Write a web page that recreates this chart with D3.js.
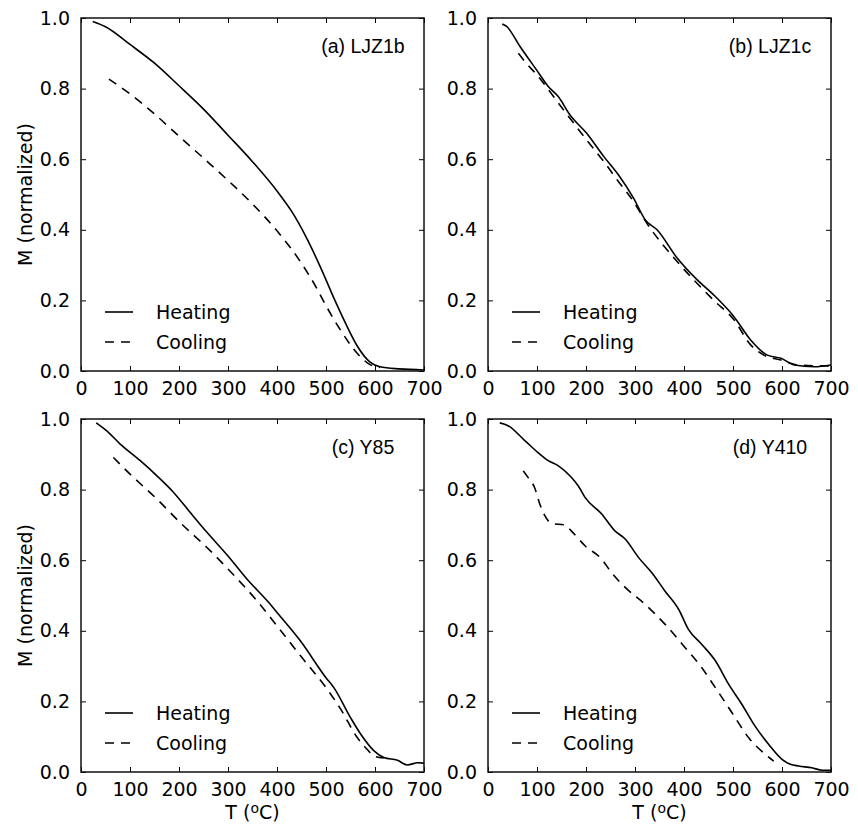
<!DOCTYPE html>
<html>
<head>
<meta charset="utf-8">
<script src="https://cdn.jsdelivr.net/npm/d3@7"></script>
<style>
  body { margin: 0; background: #fff; }
  .tick text { font-family: "DejaVu Sans", sans-serif; font-size: 19px; fill: #000; }
  .tick line { stroke: #000; stroke-width: 1; }
  .domain { display: none; }
</style>
</head>
<body>
<svg id="chart" width="858" height="824"></svg>
<script>
// panel names
var PANELS = ['(a) LJZ1b', '(b) LJZ1c', '(c) Y85', '(d) Y410'];
var SERIES = ['Heating', 'Cooling'];
var XTICKS = [0, 100, 200, 300, 400, 500, 600, 700];
var YTICKS = [0.0, 0.2, 0.4, 0.6, 0.8, 1.0];

// (a) LJZ1b
var aHeatT = [24, 50, 100, 150, 200, 250, 300, 350, 400, 430, 460, 490, 515, 540, 565, 590, 610, 650, 700];
var aHeatM = [0.99, 0.975, 0.925, 0.872, 0.808, 0.742, 0.668, 0.593, 0.51, 0.452, 0.378, 0.29, 0.21, 0.135, 0.068, 0.025, 0.012, 0.006, 0.003];
var aCoolT = [57, 100, 150, 200, 250, 300, 350, 400, 450, 480, 500, 530, 565, 590, 610];
var aCoolM = [0.827, 0.785, 0.728, 0.665, 0.603, 0.54, 0.473, 0.397, 0.305, 0.237, 0.185, 0.115, 0.048, 0.018, 0.01];

// (b) LJZ1c
var bHeatT = [29, 38, 65, 99, 123, 143, 167, 201, 236, 266, 297, 321, 345, 386, 427, 461, 502, 536, 570, 598, 625, 666, 700];
var bHeatM = [0.983, 0.976, 0.92, 0.853, 0.806, 0.778, 0.726, 0.674, 0.608, 0.556, 0.49, 0.428, 0.4, 0.32, 0.258, 0.215, 0.154, 0.088, 0.045, 0.036, 0.017, 0.012, 0.017];
var bCoolT = [62, 75, 99, 154, 201, 236, 266, 297, 324, 386, 461, 502, 536, 563, 598, 632, 700];
var bCoolM = [0.9, 0.877, 0.84, 0.74, 0.655, 0.594, 0.537, 0.48, 0.419, 0.31, 0.2, 0.145, 0.074, 0.045, 0.031, 0.017, 0.014];

// (c) Y85
var cHeatT = [31, 52, 80, 121, 155, 189, 223, 257, 300, 339, 380, 400, 448, 500, 516, 550, 571, 598, 618, 646, 666, 687, 700];
var cHeatM = [0.989, 0.967, 0.929, 0.882, 0.839, 0.792, 0.735, 0.679, 0.612, 0.546, 0.485, 0.452, 0.371, 0.267, 0.239, 0.154, 0.107, 0.06, 0.041, 0.033, 0.02, 0.026, 0.025];
var cCoolT = [66, 100, 155, 202, 257, 300, 359, 400, 448, 500, 530, 564, 584, 598, 618];
var cCoolM = [0.891, 0.844, 0.773, 0.707, 0.636, 0.575, 0.485, 0.414, 0.329, 0.239, 0.178, 0.097, 0.064, 0.045, 0.04];

// (d) Y410
var dHeatT = [24, 41, 75, 102, 123, 143, 170, 184, 198, 232, 259, 280, 307, 334, 361, 389, 409, 436, 464, 491, 518, 545, 573, 600, 617, 634, 661, 682, 700];
var dHeatM = [0.989, 0.981, 0.939, 0.905, 0.882, 0.868, 0.835, 0.811, 0.778, 0.731, 0.683, 0.66, 0.608, 0.565, 0.513, 0.461, 0.404, 0.362, 0.315, 0.249, 0.192, 0.13, 0.078, 0.036, 0.022, 0.017, 0.012, 0.005, 0.005];
var dCoolT = [72, 82, 95, 106, 116, 130, 157, 170, 198, 232, 252, 280, 320, 361, 402, 436, 464, 498, 532, 566, 583];
var dCoolM = [0.853, 0.834, 0.806, 0.758, 0.726, 0.704, 0.7, 0.683, 0.641, 0.603, 0.565, 0.523, 0.476, 0.419, 0.353, 0.296, 0.239, 0.168, 0.097, 0.05, 0.031];

var HEAT_T = [aHeatT, bHeatT, cHeatT, dHeatT];
var HEAT_M = [aHeatM, bHeatM, cHeatM, dHeatM];
var COOL_T = [aCoolT, bCoolT, cCoolT, dCoolT];
var COOL_M = [aCoolM, bCoolM, cCoolM, dCoolM];

var PANELLEFT = [81, 488];
var PANELTOP = [18, 419];
var PANELW = 343;
var PANELH = 353;
var TICKLEN = 5;
var DASH = '9,7';

var svg = d3.select('#chart');

function toPoints(aT, aM)
{
  return aT.map(function(t, i) { return [t, aM[i]]; });
}

function drawPanel(iPanel)
{
  var iCol = iPanel % 2;
  var iRow = Math.floor(iPanel / 2);
  var fLeft = PANELLEFT[iCol];
  var fTop = PANELTOP[iRow];

  var x = d3.scaleLinear().domain([0, 700]).range([0, PANELW]);
  var y = d3.scaleLinear().domain([0, 1]).range([PANELH, 0]);

  var g = svg.append('g').attr('transform', 'translate(' + fLeft + ',' + fTop + ')');

  g.append('clipPath').attr('id', 'clip' + iPanel)
    .append('rect').attr('width', PANELW).attr('height', PANELH);

  // axes, ticks pointing inward on all four sides
  g.append('g').attr('transform', 'translate(0,' + PANELH + ')')
    .call(d3.axisBottom(x).tickValues(XTICKS).tickFormat(d3.format('d')).tickSizeInner(-TICKLEN).tickSizeOuter(0).tickPadding(11));
  g.append('g')
    .call(d3.axisTop(x).tickValues(XTICKS).tickFormat('').tickSizeInner(-TICKLEN).tickSizeOuter(0));
  g.append('g')
    .call(d3.axisLeft(y).tickValues(YTICKS).tickFormat(d3.format('.1f')).tickSizeInner(-TICKLEN).tickSizeOuter(0).tickPadding(11));
  g.append('g').attr('transform', 'translate(' + PANELW + ',0)')
    .call(d3.axisRight(y).tickValues(YTICKS).tickFormat('').tickSizeInner(-TICKLEN).tickSizeOuter(0));

  var line = d3.line().x(function(d) { return x(d[0]); }).y(function(d) { return y(d[1]); }).curve(d3.curveMonotoneX);

  var gLines = g.append('g').attr('clip-path', 'url(#clip' + iPanel + ')');
  gLines.append('path')
    .attr('d', line(toPoints(HEAT_T[iPanel], HEAT_M[iPanel])))
    .attr('fill', 'none').attr('stroke', '#000').attr('stroke-width', 1.6);
  gLines.append('path')
    .attr('d', line(toPoints(COOL_T[iPanel], COOL_M[iPanel])))
    .attr('fill', 'none').attr('stroke', '#000').attr('stroke-width', 1.6)
    .attr('stroke-dasharray', DASH);

  // frame
  g.append('rect').attr('width', PANELW).attr('height', PANELH)
    .attr('fill', 'none').attr('stroke', '#111').attr('stroke-width', 1.5);

  // panel label
  g.append('text')
    .attr('x', 282).attr('y', 35)
    .attr('text-anchor', 'middle')
    .style('font-family', '"Liberation Sans", Arial, sans-serif')
    .style('font-size', '19.5px')
    .text(PANELS[iPanel]);

  // legend
  var gLeg = g.append('g');
  SERIES.forEach(function(s, i)
  {
    var fY = PANELH - 59 + i * 30;
    gLeg.append('line')
      .attr('x1', 24).attr('x2', 52).attr('y1', fY).attr('y2', fY)
      .attr('stroke', '#000').attr('stroke-width', 1.6)
      .attr('stroke-dasharray', i === 1 ? DASH : null);
    gLeg.append('text')
      .attr('x', 75).attr('y', fY + 7)
      .style('font-family', '"DejaVu Sans", sans-serif')
      .style('font-size', '19px')
      .text(s);
  });

  if (iCol === 0)
  {
    g.append('text')
      .attr('transform', 'translate(-49,' + (PANELH / 2) + ') rotate(-90)')
      .attr('text-anchor', 'middle')
      .style('font-family', '"DejaVu Sans", sans-serif')
      .style('font-size', '19px')
      .text('M (normalized)');
  }
  if (iRow === 1)
  {
    var t = g.append('text')
      .attr('x', PANELW / 2).attr('y', PANELH + 47)
      .attr('text-anchor', 'middle')
      .style('font-family', '"DejaVu Sans", sans-serif')
      .style('font-size', '19px');
    t.append('tspan').text('T (');
    t.append('tspan').attr('dy', -6).style('font-size', '14px').text('o');
    t.append('tspan').attr('dy', 6).text('C)');
  }
}

for (var i = 0; i < PANELS.length; i++)
{
  drawPanel(i);
}
</script>
</body>
</html>
